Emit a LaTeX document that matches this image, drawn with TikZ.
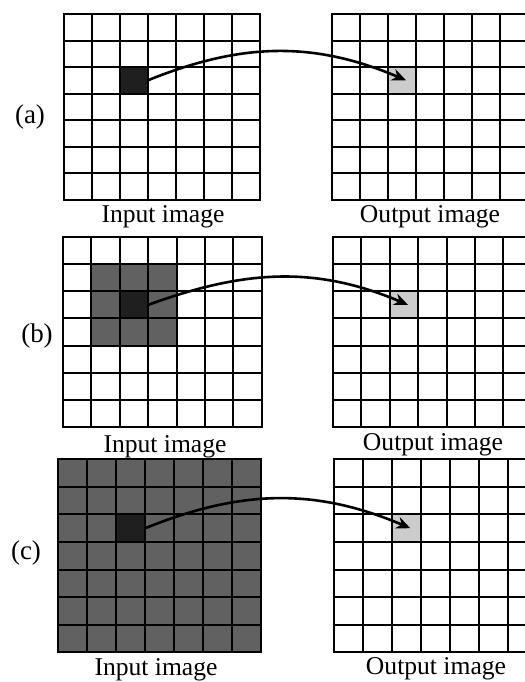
\documentclass[tikz,border=0pt]{standalone}
\usepackage{fontspec}
\setmainfont{Liberation Serif}
\usetikzlibrary{positioning,arrows.meta}

\begin{document}
\begin{tikzpicture}[
    x=0.5pt,
    y=-0.5pt,
    every node/.style={align=center, font=\fontsize{12.8}{15}\selectfont},
    cell/.style 2 args={
        inner sep=0pt,
        outer sep=0pt,
        minimum width=#1*0.5pt,
        minimum height=#2*0.5pt
    },
    pixel/.style={fill=black!88},
    hood/.style={fill=black!62},
    hit/.style={fill=black!20},
    gridline/.style={line width=1pt, line cap=rect},
    caption/.style={anchor=base},
    tag/.style={font=\fontsize{13.5}{16}\selectfont},
    arrow/.style={
        -{Stealth[length=7pt,width=6pt]},
        line width=1.3pt
    }
]

\useasboundingbox (0,0) rectangle (525,682);
\clip (0,0) rectangle (525,682);

% (a)
\begin{scope}[shift={(64,14)}, xscale=28, yscale=26.5]
    \node[cell={28}{26.5}, pixel] (inA) at (2.5,2.5) {};
    \foreach \i in {0,...,7} {
        \draw[gridline] (\i,0) -- (\i,7);
        \draw[gridline] (0,\i) -- (7,\i);
    }
\end{scope}

\begin{scope}[shift={(332,14)}, xscale=28, yscale=26.5]
    \node[cell={28}{26.5}, hit] (outA) at (2.5,2.5) {};
    \foreach \i in {0,...,7} {
        \draw[gridline] (\i,0) -- (\i,7);
        \draw[gridline] (0,\i) -- (7,\i);
    }
\end{scope}

\node[tag] (labA) at (30,117) {(a)};
\node[caption] (inAcap) at (163,222) {Input image};
\node[caption] (outAcap) at (430,222) {Output image};

\draw[arrow] (inA.east) to[out=22, in=157] ([xshift=2pt]outA.center);

% (b)
\begin{scope}[shift={(63,237)}, xscale=28.4, yscale=27.14]
    \fill[black!62] (1,1) rectangle (4,4);
    \node[cell={28.4}{27.14}, pixel] (inB) at (2.5,2.5) {};
    \foreach \i in {0,...,7} {
        \draw[gridline] (\i,0) -- (\i,7);
        \draw[gridline] (0,\i) -- (7,\i);
    }
\end{scope}

\begin{scope}[shift={(333,237)}, xscale=28.4, yscale=27.14]
    \node[cell={28.4}{27.14}, hit] (outB) at (2.5,2.5) {};
    \foreach \i in {0,...,7} {
        \draw[gridline] (\i,0) -- (\i,7);
        \draw[gridline] (0,\i) -- (7,\i);
    }
\end{scope}

\node[tag] (labB) at (37,336) {(b)};
\node[caption] (inBcap) at (165,452) {Input image};
\node[caption] (outBcap) at (433,450) {Output image};

\draw[arrow] (inB.east) to[out=20, in=157] ([xshift=2pt]outB.center);

% (c)
\begin{scope}[shift={(58.3,459.3)}, xscale=28.96, yscale=27.57]
    \fill[black!62] (0,0) rectangle (7,7);
    \node[cell={28.96}{27.57}, pixel] (inC) at (2.5,2.5) {};
    \foreach \i in {0,...,7} {
        \draw[gridline] (\i,0) -- (\i,7);
        \draw[gridline] (0,\i) -- (7,\i);
    }
\end{scope}

\begin{scope}[shift={(334,459.3)}, xscale=28.96, yscale=27.57]
    \node[cell={28.96}{27.57}, hit] (outC) at (2.5,2.5) {};
    \foreach \i in {0,...,7} {
        \draw[gridline] (\i,0) -- (\i,7);
        \draw[gridline] (0,\i) -- (7,\i);
    }
\end{scope}

\node[tag] (labC) at (26,553) {(c)};
\node[caption] (inCcap) at (156,675) {Input image};
\node[caption] (outCcap) at (436,674) {Output image};

\draw[arrow] (inC.east) to[out=22, in=157] ([xshift=2pt]outC.center);

\end{tikzpicture}
\end{document}
